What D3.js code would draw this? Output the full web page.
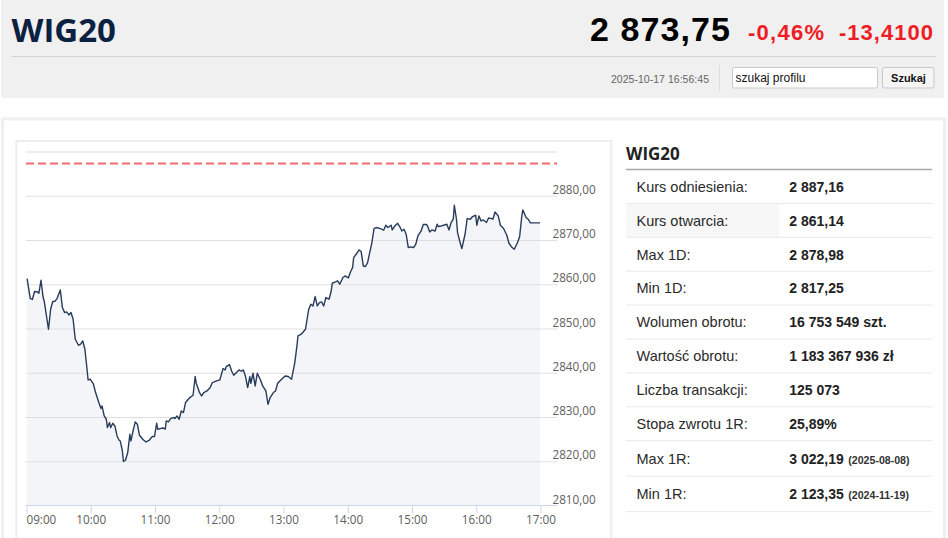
<!DOCTYPE html>
<html lang="pl">
<head>
<meta charset="utf-8">
<title>WIG20</title>
<script src="https://cdn.jsdelivr.net/npm/d3@7"></script>
<style>
  html, body { margin: 0; padding: 0; background: #fff; overflow: hidden; }
  svg { display: block; }
  .sans { font-family: "Liberation Sans", Arial, sans-serif; }
  .open { font-family: "Open Sans", "Liberation Sans", sans-serif; }
</style>
</head>
<body>
<svg id="page" width="948" height="538"></svg>
<script>
// intraday quotes
const times = [
  "09:01","09:04","09:06","09:08","09:11","09:12","09:14","09:16","09:17","09:21",
  "09:23","09:25","09:27","09:29","09:32","09:34","09:36","09:38","09:40","09:42",
  "09:44","09:46","09:49","09:51","09:53","09:55","09:57","09:58","10:00","10:03",
  "10:05","10:08","10:10","10:11","10:13","10:15","10:16","10:18","10:19","10:21",
  "10:23","10:25","10:27","10:28","10:30","10:31","10:33","10:35","10:37","10:38",
  "10:40","10:42","10:44","10:46","10:49","10:52","10:55","10:58","11:00","11:02",
  "11:03","11:05","11:08","11:10","11:11","11:13","11:15","11:18","11:19","11:21",
  "11:23","11:25","11:27","11:29","11:31","11:33","11:36","11:38","11:39","11:42",
  "11:44","11:46","11:49","11:52","11:54","11:58","12:01","12:04","12:06","12:07",
  "12:10","12:12","12:14","12:17","12:19","12:21","12:23","12:25","12:27","12:29",
  "12:30","12:32","12:34","12:36","12:39","12:41","12:44","12:46","12:48","12:51",
  "12:53","12:55","12:58","13:02","13:05","13:08","13:11","13:13","13:14","13:17",
  "13:21","13:24","13:26","13:28","13:30","13:32","13:34","13:36","13:38","13:40",
  "13:43","13:45","13:46","13:49","13:51","13:53","13:56","13:58","14:01","14:03",
  "14:05","14:06","14:09","14:11","14:13","14:15","14:17","14:19","14:21","14:23",
  "14:25","14:27","14:31","14:34","14:36","14:38","14:41","14:42","14:44","14:47",
  "14:49","14:51","14:53","14:55","14:57","14:59","15:02","15:04","15:06","15:09",
  "15:11","15:14","15:15","15:17","15:19","15:22","15:24","15:25","15:28","15:30",
  "15:33","15:35","15:37","15:39","15:40","15:42","15:43","15:45","15:47","15:50",
  "15:52","15:55","15:57","16:00","16:01","16:03","16:05","16:07","16:10","16:12",
  "16:15","16:16","16:18","16:21","16:23","16:26","16:29","16:31","16:34","16:36",
  "16:39","16:41","16:43","16:44","16:47","16:49","16:51","17:00"
];
const values = [
  2861.14,2856.65,2856.50,2858.24,2858.15,2857.85,2860.79,2856.88,2856.11,2849.72,
  2854.24,2855.98,2856.04,2856.65,2858.60,2854.62,2853.49,2853.63,2852.95,2853.49,
  2851.98,2847.46,2846.10,2846.33,2847.07,2845.20,2840.68,2838.26,2838.42,2837.29,
  2835.41,2833.15,2831.80,2832.38,2830.12,2829.38,2827.50,2828.63,2827.50,2828.47,
  2827.86,2825.60,2824.63,2824.47,2822.21,2819.82,2820.18,2821.85,2825.99,2824.47,
  2826.73,2828.77,2828.25,2825.76,2824.86,2824.25,2824.63,2825.47,2825.47,2828.47,
  2827.12,2827.27,2827.41,2827.12,2829.00,2828.77,2829.53,2829.76,2829.53,2830.12,
  2829.38,2831.25,2830.89,2833.15,2833.74,2834.28,2834.80,2839.03,2837.51,2835.41,
  2834.64,2835.41,2835.77,2836.54,2837.67,2838.04,2838.26,2840.83,2840.52,2841.29,
  2841.74,2840.29,2839.32,2840.07,2840.52,2840.22,2840.52,2839.03,2836.54,2839.03,
  2837.51,2839.77,2836.90,2839.77,2838.26,2836.90,2835.77,2832.77,2834.28,2835.41,
  2835.77,2837.51,2838.26,2839.16,2839.03,2838.42,2842.19,2845.94,2848.20,2848.59,
  2849.72,2854.24,2855.37,2854.98,2857.11,2854.98,2855.75,2855.89,2854.98,2856.88,
  2856.50,2858.37,2860.11,2860.41,2860.63,2859.89,2861.40,2861.76,2861.31,2862.67,
  2863.66,2865.92,2866.89,2867.64,2867.28,2864.02,2863.89,2864.79,2867.05,2869.31,
  2872.47,2872.70,2872.47,2872.09,2873.22,2872.70,2873.22,2872.16,2872.93,2873.67,
  2872.93,2871.93,2872.32,2871.19,2868.18,2868.32,2868.18,2868.93,2870.80,2871.93,
  2873.38,2873.38,2873.06,2871.71,2872.16,2871.93,2873.45,2872.93,2873.06,2873.22,
  2873.45,2872.16,2873.83,2874.58,2877.74,2874.58,2871.57,2869.67,2867.95,2871.19,
  2874.73,2874.58,2875.19,2875.48,2873.22,2875.32,2874.19,2874.42,2873.83,2874.87,
  2874.73,2874.58,2876.23,2875.32,2873.22,2872.47,2870.96,2869.15,2868.18,2867.80,
  2869.31,2870.67,2875.32,2876.68,2874.96,2874.58,2873.75,2873.75
];
const refValue = 2887.16;          // kurs odniesienia, dashed line
const hourTicks = ["09:00","10:00","11:00","12:00","13:00","14:00","15:00","16:00","17:00"];
const gridTicks = [2820, 2830, 2840, 2850, 2860, 2870, 2880, 2890];
const labelTicks = [2810, 2820, 2830, 2840, 2850, 2860, 2870, 2880];

// header
const quoteName = "WIG20";
const quoteLast = "2 873,75";
const quoteChgPct = "-0,46%";
const quoteChg = "-13,4100";
const quoteStamp = "2025-10-17 16:56:45";

// side table
const rowLabels = ["Kurs odniesienia:", "Kurs otwarcia:", "Max 1D:", "Min 1D:", "Wolumen obrotu:",
  "Wartość obrotu:", "Liczba transakcji:", "Stopa zwrotu 1R:", "Max 1R:", "Min 1R:"];
const rowValues = ["2 887,16", "2 861,14", "2 878,98", "2 817,25", "16 753 549 szt.",
  "1 183 367 936 zł", "125 073", "25,89%", "3 022,19", "2 123,35"];
const rowNotes = ["", "", "", "", "", "", "", "", "(2025-08-08)", "(2024-11-19)"];

const svg = d3.select("#page");
const pl = d3.formatLocale({decimal: ",", thousands: " ", grouping: [3], currency: ["", " zł"]});
const fmt = pl.format(".2f");
const parseTime = d3.timeParse("%H:%M");

// ---- header ----
svg.append("rect").attr("x", 1).attr("y", 0).attr("width", 943).attr("height", 98).attr("fill", "#f0f0f0");
svg.append("text").attr("class", "open").attr("x", 11.5).attr("y", 41.5)
  .attr("font-size", 33).attr("font-weight", 700).attr("fill", "#0b2142").text(quoteName);
svg.append("text").attr("class", "sans").attr("x", 590).attr("y", 40.5)
  .attr("font-size", 34).attr("font-weight", 700).attr("fill", "#000")
  .attr("textLength", 140).attr("lengthAdjust", "spacing").text(quoteLast);
svg.append("text").attr("class", "sans").attr("x", 748).attr("y", 39.5)
  .attr("font-size", 22).attr("font-weight", 700).attr("fill", "#ee1c25")
  .attr("textLength", 76).attr("lengthAdjust", "spacing").text(quoteChgPct);
svg.append("text").attr("class", "sans").attr("x", 839).attr("y", 39.5)
  .attr("font-size", 22).attr("font-weight", 700).attr("fill", "#ee1c25")
  .attr("textLength", 94).attr("lengthAdjust", "spacing").text(quoteChg);
svg.append("line").attr("x1", 11).attr("x2", 936).attr("y1", 56.5).attr("y2", 56.5)
  .attr("stroke", "#d6d6d6");
svg.append("text").attr("class", "sans").attr("x", 611).attr("y", 83)
  .attr("font-size", 10.5).attr("fill", "#666")
  .attr("textLength", 98).attr("lengthAdjust", "spacing").text(quoteStamp);
svg.append("line").attr("x1", 719.5).attr("x2", 719.5).attr("y1", 65).attr("y2", 91)
  .attr("stroke", "#dcdcdc");
svg.append("rect").attr("x", 732.5).attr("y", 67.5).attr("width", 145).attr("height", 20.5)
  .attr("rx", 2).attr("fill", "#fff").attr("stroke", "#c8c8c8");
svg.append("text").attr("class", "sans").attr("x", 735.5).attr("y", 81.5)
  .attr("font-size", 12).attr("fill", "#111").text("szukaj profilu");
svg.append("rect").attr("x", 882.5).attr("y", 67.5).attr("width", 51.5).attr("height", 20.5)
  .attr("rx", 2).attr("fill", "#f5f5f5").attr("stroke", "#c8c8c8");
svg.append("text").attr("class", "sans").attr("x", 908.5).attr("y", 82)
  .attr("text-anchor", "middle").attr("font-size", 11).attr("font-weight", 700)
  .attr("fill", "#111").text("Szukaj");

// ---- panel ----
svg.append("rect").attr("x", 2.5).attr("y", 119).attr("width", 942).attr("height", 440)
  .attr("fill", "#fff").attr("stroke", "#efefef").attr("stroke-width", 3);
svg.append("rect").attr("x", 16.3).attr("y", 141).attr("width", 595).attr("height", 420)
  .attr("fill", "none").attr("stroke", "#eeeeee").attr("stroke-width", 2);

// ---- chart ----
const points = times.map((t, i) => ({t: parseTime(t), v: values[i]}));
const x = d3.scaleTime().domain([parseTime("09:00"), parseTime("17:00")]).range([26, 540]);
const y = d3.scaleLinear().domain([2810, 2890]).range([505, 151]);

const chart = svg.append("g");

chart.append("path").datum(points)
  .attr("fill", "#f3f5f8")
  .attr("d", d3.area().x(d => x(d.t)).y0(y(2810)).y1(d => y(d.v)));

const grid = chart.append("g").attr("transform", "translate(26,0.5)")
  .call(d3.axisLeft(y).tickValues(gridTicks).tickSize(-(557 - 26)).tickFormat(""));
grid.select(".domain").remove();
grid.selectAll(".tick line").attr("stroke", "#dfdfdf");

chart.selectAll(".ylab").data(labelTicks).join("text")
  .attr("class", "ylab open")
  .attr("x", 552.5).attr("y", d => y(d) - 1.5)
  .attr("font-size", 11.7).attr("fill", "#606060")
  .text(d => fmt(d));

chart.append("line")
  .attr("x1", 26).attr("x2", 557).attr("y1", y(refValue)).attr("y2", y(refValue))
  .attr("stroke", "#f66a6a").attr("stroke-width", 2).attr("stroke-dasharray", "8,4");

chart.append("path").datum(points)
  .attr("fill", "none").attr("stroke", "#283b5b").attr("stroke-width", 1.4)
  .attr("stroke-linejoin", "round")
  .attr("d", d3.line().x(d => x(d.t)).y(d => y(d.v)));

const xAxis = chart.append("g").attr("transform", "translate(0.5,505)")
  .call(d3.axisBottom(x).tickValues(hourTicks.map(parseTime)).tickSize(8)
    .tickFormat(d3.timeFormat("%H:%M")));
xAxis.select(".domain").remove();
xAxis.selectAll(".tick line").attr("stroke", "#ccd6eb");
xAxis.selectAll(".tick text").attr("class", "open").attr("font-size", 11.7)
  .attr("fill", "#606060").attr("font-family", null);
xAxis.select(".tick text").attr("text-anchor", "start").attr("x", -0.5);
chart.append("line").attr("x1", 25.5).attr("x2", 557).attr("y1", 505.5).attr("y2", 505.5)
  .attr("stroke", "#ccd6eb");

// ---- side table ----
svg.append("text").attr("class", "open").attr("x", 626).attr("y", 159.5)
  .attr("font-size", 17).attr("font-weight", 700).attr("fill", "#222").text(quoteName);
svg.append("line").attr("x1", 626).attr("x2", 932).attr("y1", 169.5).attr("y2", 169.5)
  .attr("stroke", "#a8a8a8").attr("stroke-width", 1.5);

const rowTop = i => 169.5 + (i < 8 ? i * 33.9 : 8 * 33.9 + (i - 8) * 35.5);
const rowH = i => (i < 8 ? 33.9 : 35.5);

const rows = svg.selectAll(".row").data(rowLabels).join("g").attr("class", "row")
  .attr("transform", (d, i) => `translate(0,${rowTop(i)})`);
rows.filter((d, i) => i === 1).append("rect")
  .attr("x", 626).attr("y", 0.5).attr("width", 153).attr("height", 33.4).attr("fill", "#f7f7f7");
rows.append("line").attr("x1", 626).attr("x2", 932)
  .attr("y1", (d, i) => rowH(i)).attr("y2", (d, i) => rowH(i)).attr("stroke", "#e8e8e8");
rows.append("text").attr("class", "sans").attr("x", 636.5)
  .attr("y", (d, i) => rowH(i) / 2 + 5.3)
  .attr("font-size", 14.5).attr("fill", "#2a2a2a").text(d => d);
rows.append("text").attr("class", "sans val").attr("x", 789.3)
  .attr("y", (d, i) => rowH(i) / 2 + 5.3)
  .attr("font-size", 14).attr("font-weight", 700).attr("fill", "#222")
  .text((d, i) => rowValues[i]);
rows.each(function(d, i) {
  if (!rowNotes[i]) return;
  const g = d3.select(this);
  const w = g.select(".val").node().getComputedTextLength();
  g.append("text").attr("class", "sans").attr("x", 789.3 + w + 4.5)
    .attr("y", rowH(i) / 2 + 5.3)
    .attr("font-size", 10.6).attr("font-weight", 700).attr("fill", "#333")
    .text(rowNotes[i]);
});
</script>
</body>
</html>
